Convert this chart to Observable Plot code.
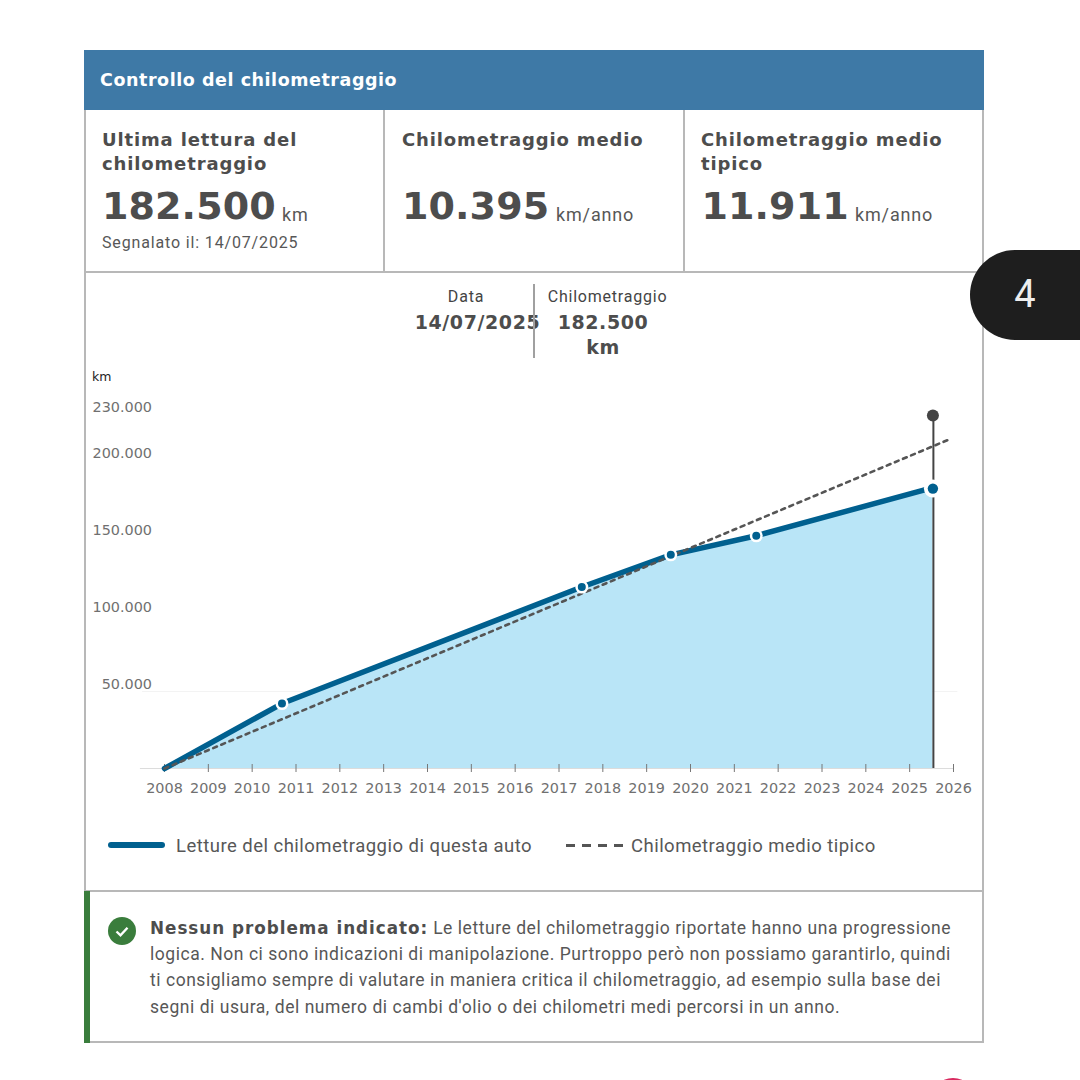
<!DOCTYPE html>
<html lang="it"><head><meta charset="utf-8">
<script src="https://cdn.jsdelivr.net/npm/d3@7"></script>
<script src="https://cdn.jsdelivr.net/npm/@observablehq/plot@0.6"></script>
<style>
html,body{margin:0;padding:0;background:#fff;width:1080px;height:1080px;overflow:hidden}
#page{position:relative;width:1080px;height:1080px;overflow:hidden}
#page>div,#page>svg{position:absolute;white-space:nowrap}
.dj{font-family:"DejaVu Sans";font-weight:700;color:#4d4d4d}
.rb{font-family:Roboto;color:#575757}
.c{transform:translateX(-50%)}
</style></head><body><div id="page"></div>
<script>
// Data
const readingYears = [2008, 2010.68, 2017.52, 2019.55, 2021.5, 2025.53];
const readingKm = [0, 42200, 117900, 138800, 151200, 182500];
const typicalYears = [2008, 2025.86];
const typicalKm = [0, 213300];
const xTicks = d3.range(2008, 2027);
const yTicks = [50000, 100000, 150000, 200000, 230000];
const readings = readingYears.map((year, i) => ({year, km: readingKm[i]}));
const typical = typicalYears.map((year, i) => ({year, km: typicalKm[i]}));
const selected = readings[readings.length - 1];
const fmt = d => String(d).replace(/\B(?=(\d{3})+$)/g, ".");

const page = document.getElementById("page");
function el(x, y, css, html, cls) {
  const d = document.createElement("div");
  d.style.cssText = `left:${x}px;top:${y}px;${css}`;
  d.innerHTML = html; if (cls) d.className = cls;
  page.appendChild(d); return d;
}
function rect(x, y, w, h, col) { el(x, y, `width:${w}px;height:${h}px;background:${col}`, ""); }

// Header
rect(84, 50, 900, 60, "#3e79a6");
el(100, 69, "font-size:17.5px;line-height:22px;color:#fff;letter-spacing:.55px", "Controllo del chilometraggio", "dj");
// Card borders
const bc = "#b8b8b8";
rect(84, 110, 2, 933, bc); rect(982, 110, 2, 933, bc);
rect(84, 271, 900, 2, bc); rect(84, 890, 900, 2, bc); rect(84, 1041, 900, 2, bc);
rect(383, 110, 2, 162, bc); rect(683, 110, 2, 162, bc);
// Stats
const lab = "font-size:18px;line-height:24px;letter-spacing:.86px";
el(102, 128, lab, "Ultima lettura del<br>chilometraggio", "dj");
el(402, 128, lab, "Chilometraggio medio", "dj");
el(701, 128, lab, "Chilometraggio medio<br>tipico", "dj");
const big = "font-size:38px;line-height:46px;letter-spacing:.1px";
el(102, 182.5, big, "182.500", "dj");
el(402, 182.5, big, "10.395", "dj");
el(701.5, 182.5, big, "11.911", "dj");
const unit = "font-size:18px;line-height:22px;letter-spacing:.85px";
el(282, 203.5, unit, "km", "rb");
el(556, 203.5, unit, "km/anno", "rb");
el(855, 203.5, unit, "km/anno", "rb");
el(102, 233, "font-size:16px;line-height:20px;letter-spacing:.85px", "Segnalato il: 14/07/2025", "rb");
// Readout above the chart
const sm = "font-size:16px;line-height:20px;letter-spacing:.78px;color:#444";
el(466, 287, sm, "Data", "rb c");
el(607.5, 287, sm, "Chilometraggio", "rb c");
const vv = "font-size:19px;line-height:25px;letter-spacing:.6px";
el(477.5, 310, vv, "14/07/2025", "dj c");
el(603, 310, vv, "182.500", "dj c");
el(603, 335, vv, "km", "dj c");
rect(533, 284, 1.5, 74, "#a0a0a0");
el(92, 369, "font-family:'DejaVu Sans';font-size:12.5px;line-height:16px;color:#222", "km");

// Chart
const chart = Plot.plot({
  width: 900, height: 450,
  marginLeft: 80, marginRight: 31, marginTop: 54, marginBottom: 42,
  style: {background: "transparent", fontFamily: "DejaVu Sans", fontSize: "14.4px", overflow: "visible"},
  x: {domain: [2008, 2026], label: null},
  y: {domain: [0, 230000], label: null},
  marks: [
    Plot.ruleY([50000], {x1: 2007.5, x2: 2026.1, stroke: "#f3f3f3", strokeWidth: 1}),
    Plot.ruleY([0], {x1: 2007.45, x2: 2026, stroke: "#dcdcdc", strokeWidth: 1}),
    Plot.areaY(readings, {x: "year", y: "km", fill: "#b9e5f7"}),
    Plot.axisX({ticks: xTicks, tickSize: 8, dy: -4, text: null, stroke: "#777", strokeWidth: 1}),
    Plot.axisX({ticks: xTicks, tickSize: 0, tickPadding: 14, tickFormat: "d", fill: "#707070", label: null}),
    Plot.axisY({ticks: yTicks, tickSize: 0, tickPadding: 12.5, dy: -7, tickFormat: fmt, fill: "#707070", label: null}),
    Plot.ruleX([selected.year], {y1: 0, y2: 230000, stroke: "#444", strokeWidth: 2, dx: 0.5}),
    Plot.dot([{year: selected.year, km: 230000}], {x: "year", y: "km", r: 6, fill: "#444", dy: 1}),
    Plot.line(readings, {x: "year", y: "km", stroke: "#00608f", strokeWidth: 5.5}),
    Plot.line(typical, {x: "year", y: "km", stroke: "#555", strokeWidth: 2.6, strokeDasharray: "4 4.8"}),
    Plot.dot(readings.slice(1, -1), {x: "year", y: "km", r: 6.5, fill: "#fff"}),
    Plot.dot(readings.slice(1, -1), {x: "year", y: "km", r: 4, fill: "#00608f"}),
    Plot.dot([selected], {x: "year", y: "km", r: 9, fill: "#fff", dy: 1}),
    Plot.dot([selected], {x: "year", y: "km", r: 5.2, fill: "#00608f", dy: 1})
  ]
});
chart.style.left = "84px"; chart.style.top = "360px";
page.appendChild(chart);

// Legend
el(108, 842, "width:57px;height:6px;border-radius:3px;background:#00608f", "");
const leg = "font-size:18.5px;line-height:24px;letter-spacing:.47px;color:#575757";
el(176, 834, leg, "Letture del chilometraggio di questa auto", "rb");
for (const x of [566, 582, 598, 614]) rect(x, 843.5, 9, 3, "#555");
el(631, 834, leg, "Chilometraggio medio tipico", "rb");

// Note
rect(84, 891, 6, 152, "#3a7d3c");
el(108, 917, "width:28px;height:28px;border-radius:50%;background:#3a7d3c", "");
el(108, 917, "width:28px;height:28px", '<svg width="28" height="28"><path d="M8.5 14.5l4 3.8 7-7.5" fill="none" stroke="#fff" stroke-width="2.4"/></svg>');
const nt = "font-size:17.5px;line-height:26px;letter-spacing:.54px";
el(150, 915, nt, '<span class="dj" style="font-size:16.8px;letter-spacing:.98px">Nessun problema indicato:</span> Le letture del chilometraggio riportate hanno una progressione', "rb");
el(150, 941, nt, "logica. Non ci sono indicazioni di manipolazione. Purtroppo però non possiamo garantirlo, quindi", "rb");
el(150, 967, nt, "ti consigliamo sempre di valutare in maniera critica il chilometraggio, ad esempio sulla base dei", "rb");
el(150, 994, nt, "segni di usura, del numero di cambi d'olio o dei chilometri medi percorsi in un anno.", "rb");

// Page furniture
el(970, 250, "width:220px;height:90px;border-radius:45px;background:#1e1e1e", "");
el(1025, 271, "font-family:Roboto;font-size:38px;line-height:46px;color:#eee", "4", "c");
el(930, 1078, "width:46px;height:46px;border-radius:50%;background:#d9295f", "");
</script></body></html>
